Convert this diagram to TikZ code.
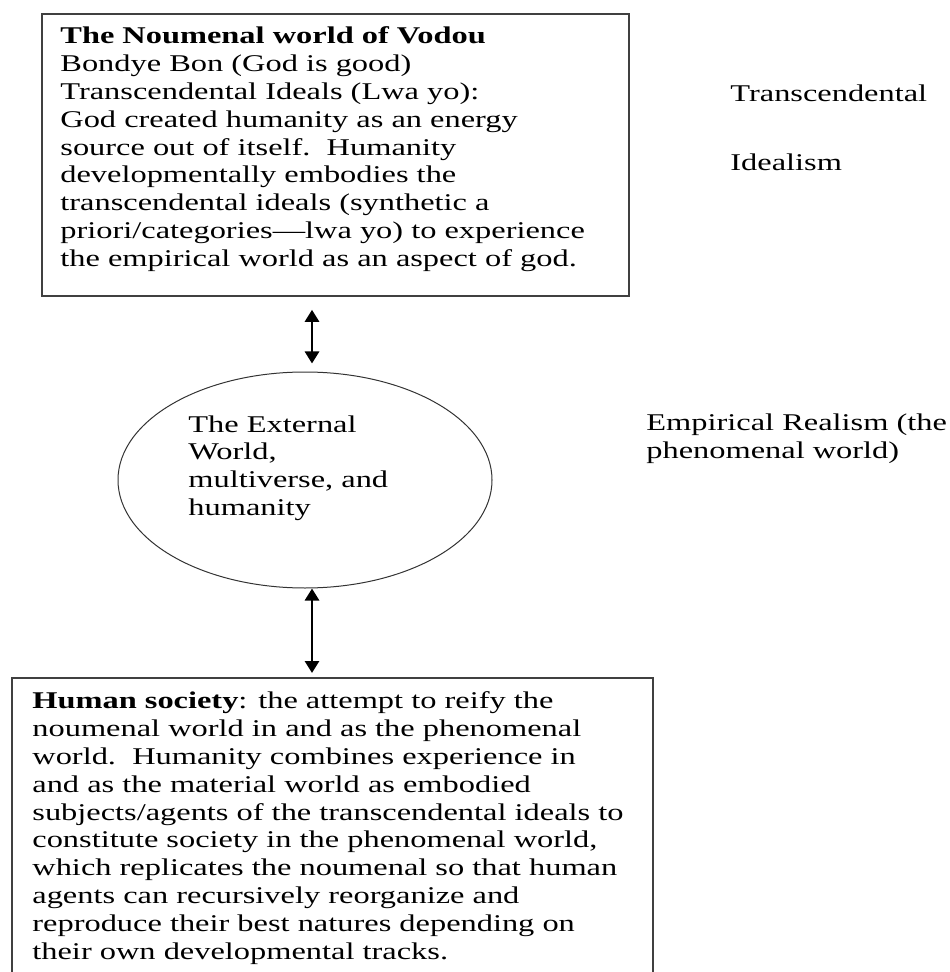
\documentclass[tikz,border=0pt]{standalone}
\usepackage{fontspec}
\setmainfont{Liberation Serif}[FakeStretch=1.35]
\usepackage{tikz}
\usetikzlibrary{arrows.meta,calc,positioning,shapes.geometric}

\begin{document}
\begin{tikzpicture}[
    x=0.5pt, y=-0.5pt,
    nosep/.style={inner sep=0},
    frame/.style={draw=black!75, line width=0.9pt, rectangle, nosep, anchor=north west},
    world/.style={draw=black!80, line width=0.5pt, ellipse, nosep,
        minimum width=187pt, minimum height=108pt},
    txt/.style={nosep, anchor=north west, align=left, text=black,
        font=\fontsize{12}{13.9}\selectfont},
    link/.style={line width=1.4pt, {Triangle[width=7pt,length=6pt]}-{Triangle[width=7pt,length=6pt]}}]
\useasboundingbox (0,0) rectangle (949,972);

% frames
\node[frame, minimum width=293.5pt, minimum height=141pt] (noumenal) at (41,13) {};
\node[world] (ell) at (305,480) {};
\node[frame, minimum width=320.5pt, minimum height=160pt] (society) at (11,677) {};

% texts
\node[txt] (noumenaltext) at (60,26.6) {\textbf{The Noumenal world of Vodou}\\
    Bondye Bon (God is good)\\
    Transcendental Ideals (Lwa yo):\\
    God created humanity as an energy\\
    source out of itself.\ \ Humanity\\
    developmentally embodies the\\
    transcendental ideals (synthetic a\\
    priori/categories---lwa yo) to experience\\
    the empirical world as an aspect of god.};
\node[txt] (elltext) at (188,415) {The External\\
    World,\\
    multiverse, and\\
    humanity};
\node[txt] (societytext) at (32,691.6) {\textbf{Human society}: the attempt to reify the\\
    noumenal world in and as the phenomenal\\
    world.\ \ Humanity combines experience in\\
    and as the material world as embodied\\
    subjects/agents of the transcendental ideals to\\
    constitute society in the phenomenal world,\\
    which replicates the noumenal so that human\\
    agents can recursively reorganize and\\
    reproduce their best natures depending on\\
    their own developmental tracks.};

% side labels
\node[txt] (transc) at (730,84.6) {Transcendental};
\node[txt] (ideal) at (730,153.6) {Idealism};
\node[txt] (empir) at (646,413.6) {Empirical Realism (the\\
    phenomenal world)};

% connectors
\draw[link, shorten <=6.5pt, shorten >=4pt] ([xshift=3.5pt]ell.north |- noumenal.south) -- ([xshift=3.5pt]ell.north);
\draw[link, shorten >=2pt] ([xshift=3.5pt]ell.south) -- ([xshift=3.5pt]ell.south |- society.north);

\end{tikzpicture}
\end{document}
